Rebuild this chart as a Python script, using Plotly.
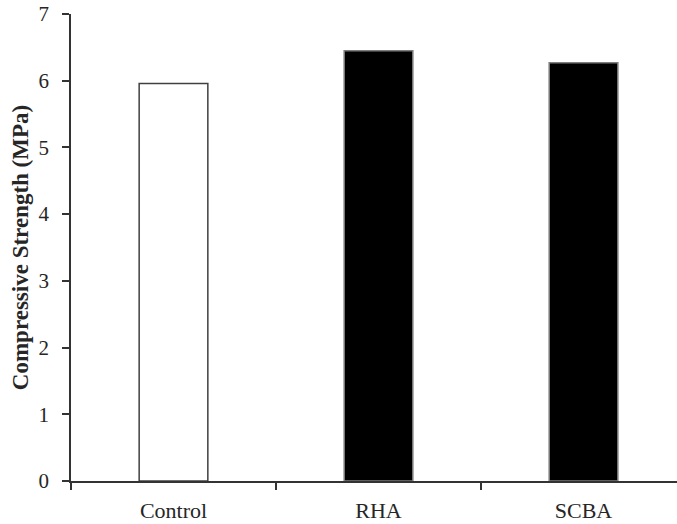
import plotly.graph_objects as go

categories = ["Control", "RHA", "SCBA"]
strength = [5.96, 6.45, 6.27]
fill_colors = ["#ffffff", "#000000", "#000000"]
line_colors = ["#404040", "#7f7f7f", "#7f7f7f"]

fig = go.Figure(
    go.Bar(
        x=categories,
        y=strength,
        width=0.335,
        marker=dict(color=fill_colors, line=dict(color=line_colors, width=1.5)),
    )
)

font_family = "Liberation Serif"
fig.update_layout(
    width=677,
    height=524,
    margin=dict(l=71, r=0, t=14, b=43),
    paper_bgcolor="white",
    plot_bgcolor="white",
    showlegend=False,
    font=dict(family=font_family, size=20, color="#262626"),
)
fig.update_xaxes(
    type="category",
    range=[-0.5, 2.456],
    showline=True,
    linecolor="#333333",
    linewidth=1.5,
    ticks="outside",
    tickson="boundaries",
    ticklen=7,
    tickwidth=1.5,
    tickcolor="#333333",
    showgrid=False,
    ticklabelstandoff=9,
    tickfont=dict(family=font_family, size=22),
)
fig.update_yaxes(
    range=[0, 7],
    dtick=1,
    showline=True,
    linecolor="#333333",
    linewidth=1.5,
    ticks="outside",
    ticklen=7,
    tickwidth=1.5,
    tickcolor="#333333",
    showgrid=False,
    zeroline=False,
    ticklabelstandoff=9,
    tickfont=dict(family=font_family, size=21),
    title=dict(
        text="<b>Compressive Strength (MPa)</b>",
        font=dict(family=font_family, size=23, color="#262626"),
        standoff=3,
    ),
)

fig.write_html("out.html")
